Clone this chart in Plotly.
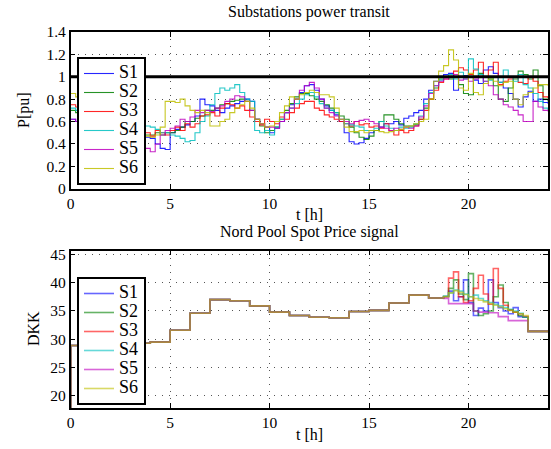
import numpy as np
import plotly.graph_objects as go

# ---------------- data ----------------
names = ["S1", "S2", "S3", "S4", "S5", "S6"]
colors = ["#0000ff", "#008000", "#ff0000", "#00bfbf", "#bf00bf", "#bfbf00"]

# time grid for power transit (hours, 0.25 h)
t_power = np.arange(0, 24.001, 0.25)

p_S1 = [0.62, 0.60, 0.58, 0.57, 0.56, 0.55, 0.54, 0.55, 0.53, 0.52, 0.50, 0.51,
        0.49, 0.48, 0.47, 0.46, 0.45, 0.40, 0.36, 0.35, 0.50, 0.53, 0.55, 0.57,
        0.60, 0.65, 0.80, 0.75, 0.74, 0.70, 0.68, 0.72, 0.74, 0.76, 0.78, 0.80,
        0.78, 0.62, 0.58, 0.55, 0.50, 0.54, 0.60, 0.68, 0.75, 0.80, 0.86, 0.92,
        0.93, 0.88, 0.80, 0.74, 0.70, 0.66, 0.60, 0.50, 0.42, 0.40, 0.41, 0.45,
        0.50, 0.52, 0.55, 0.58, 0.58, 0.60, 0.57, 0.63, 0.65, 0.68, 0.70, 0.80,
        0.88, 0.96, 1.00, 1.02, 1.03, 0.88, 1.00, 1.01, 1.00, 0.97, 0.94, 1.06,
        1.09, 1.03, 0.95, 0.90, 0.85, 0.80, 0.73, 0.82, 0.87, 0.78, 0.80, 0.77,
        0.76]
p_S2 = [0.70, 0.68, 0.66, 0.64, 0.63, 0.62, 0.60, 0.58, 0.57, 0.56, 0.55, 0.53,
        0.52, 0.50, 0.50, 0.48, 0.48, 0.50, 0.48, 0.50, 0.50, 0.52, 0.55, 0.60,
        0.60, 0.63, 0.65, 0.70, 0.70, 0.72, 0.75, 0.76, 0.78, 0.79, 0.80, 0.78,
        0.70, 0.62, 0.56, 0.50, 0.52, 0.55, 0.62, 0.70, 0.76, 0.82, 0.85, 0.85,
        0.83, 0.80, 0.78, 0.75, 0.72, 0.68, 0.65, 0.62, 0.55, 0.50, 0.46, 0.44,
        0.47, 0.52, 0.60, 0.66, 0.66, 0.62, 0.58, 0.56, 0.56, 0.57, 0.62, 0.72,
        0.80, 0.90, 0.98, 1.00, 0.98, 1.00, 0.93, 0.85, 0.84, 1.00, 1.03, 1.00,
        0.98, 0.92, 0.80, 0.78, 0.90, 0.98, 1.05, 1.02, 0.98, 1.06, 0.92, 0.80,
        0.78]
p_S3 = [0.75, 0.73, 0.70, 0.68, 0.66, 0.64, 0.62, 0.60, 0.58, 0.57, 0.56, 0.55,
        0.53, 0.52, 0.50, 0.50, 0.47, 0.52, 0.50, 0.48, 0.52, 0.55, 0.52, 0.58,
        0.55, 0.58, 0.65, 0.66, 0.68, 0.65, 0.72, 0.76, 0.75, 0.72, 0.74, 0.70,
        0.64, 0.60, 0.57, 0.62, 0.60, 0.58, 0.64, 0.62, 0.68, 0.72, 0.76, 0.78,
        0.78, 0.72, 0.70, 0.66, 0.64, 0.62, 0.60, 0.58, 0.56, 0.60, 0.57, 0.58,
        0.55, 0.56, 0.54, 0.58, 0.52, 0.48, 0.52, 0.50, 0.52, 0.56, 0.62, 0.70,
        0.80, 0.88, 0.95, 0.98, 1.00, 1.05, 1.08, 1.06, 1.02, 1.06, 1.13, 1.00,
        1.06, 1.13, 0.93, 0.96, 0.98, 1.00, 0.95, 0.94, 1.00, 0.96, 0.86, 0.82,
        0.81]
p_S4 = [0.72, 0.70, 0.68, 0.66, 0.64, 0.63, 0.62, 0.60, 0.60, 0.58, 0.57, 0.56,
        0.56, 0.55, 0.55, 0.56, 0.55, 0.53, 0.50, 0.50, 0.48, 0.47, 0.45, 0.42,
        0.43, 0.50, 0.60, 0.65, 0.75, 0.85, 0.90, 0.88, 0.90, 0.93, 0.86, 0.80,
        0.78, 0.52, 0.50, 0.52, 0.48, 0.55, 0.62, 0.68, 0.72, 0.76, 0.80, 0.84,
        0.86, 0.82, 0.76, 0.72, 0.70, 0.68, 0.62, 0.58, 0.57, 0.56, 0.55, 0.52,
        0.52, 0.54, 0.60, 0.56, 0.54, 0.52, 0.55, 0.54, 0.55, 0.58, 0.65, 0.76,
        0.86, 0.92, 0.97, 1.00, 1.02, 0.98, 1.04, 0.98, 1.16, 1.07, 1.02, 0.96,
        0.97, 1.00, 0.95, 1.06, 1.00, 0.96, 1.02, 0.93, 0.90, 0.85, 0.78, 0.72,
        0.70]
p_S5 = [0.62, 0.60, 0.58, 0.56, 0.55, 0.53, 0.51, 0.50, 0.48, 0.46, 0.45, 0.43,
        0.42, 0.40, 0.38, 0.36, 0.33, 0.40, 0.48, 0.52, 0.54, 0.56, 0.62, 0.60,
        0.64, 0.70, 0.68, 0.70, 0.69, 0.72, 0.74, 0.78, 0.80, 0.83, 0.82, 0.78,
        0.70, 0.62, 0.58, 0.55, 0.55, 0.54, 0.60, 0.68, 0.72, 0.80, 0.88, 0.92,
        0.95, 0.90, 0.80, 0.72, 0.68, 0.65, 0.62, 0.60, 0.58, 0.60, 0.61, 0.62,
        0.60, 0.58, 0.55, 0.54, 0.52, 0.54, 0.53, 0.55, 0.54, 0.56, 0.64, 0.74,
        0.85, 0.92, 0.96, 0.98, 1.00, 1.02, 0.97, 0.98, 0.96, 0.98, 1.00, 0.96,
        0.92, 0.84, 0.80, 0.75, 0.73, 0.70, 0.66, 0.60, 0.60, 0.78, 0.73, 0.70,
        0.69]
p_S6 = [0.85, 0.82, 0.78, 0.75, 0.72, 0.70, 0.67, 0.64, 0.62, 0.60, 0.57, 0.55,
        0.53, 0.51, 0.49, 0.47, 0.46, 0.48, 0.55, 0.78, 0.78, 0.77, 0.80, 0.74,
        0.70, 0.68, 0.70, 0.68, 0.56, 0.56, 0.60, 0.62, 0.68, 0.72, 0.75, 0.78,
        0.72, 0.62, 0.58, 0.55, 0.56, 0.60, 0.68, 0.74, 0.82, 0.80, 0.84, 0.86,
        0.88, 0.86, 0.84, 0.84, 0.82, 0.72, 0.62, 0.55, 0.51, 0.51, 0.52, 0.50,
        0.52, 0.52, 0.51, 0.50, 0.51, 0.52, 0.53, 0.55, 0.56, 0.58, 0.60, 0.62,
        0.80, 0.96, 1.05, 1.10, 1.24, 1.15, 0.90, 0.88, 1.03, 0.86, 0.84, 0.94,
        0.98, 0.96, 0.92, 0.95, 0.96, 0.80, 0.75, 0.84, 0.86, 0.90, 0.93, 0.93,
        0.92]
power = [p_S1, p_S2, p_S3, p_S4, p_S5, p_S6]

limit_x = [0, 24]
limit_y = [1, 1]

# Nord Pool spot price (DKK)
price_start = 17.9
price_hours = list(range(0, 19))          # hourly steps 0..18
price_hourly = [28.9, 29.0, 29.1, 29.3, 29.5, 31.6, 34.6, 37.0, 36.8, 35.9,
                34.8, 34.2, 33.9, 33.8, 34.9, 35.1, 36.4, 37.8, 37.3]
t_evening = [18.5, 18.75, 19.0, 19.25, 19.5, 19.75, 20.0, 20.25, 20.5, 20.75,
             21.0, 21.25, 21.5, 21.75, 22.0, 22.25, 22.5, 22.75]
e_S1 = [37.3, 37.5, 38.5, 36.8, 37.5, 40.5, 36.5, 34.2, 35.5, 35.0,
        40.5, 36.5, 35.6, 35.0, 34.5, 35.6, 34.0, 33.9]
e_S2 = [37.3, 37.6, 39.0, 40.5, 38.0, 37.0, 41.6, 35.0, 34.2, 34.5,
        35.0, 37.5, 39.6, 36.5, 35.2, 34.8, 34.2, 33.9]
e_S3 = [37.3, 37.5, 40.8, 41.9, 37.5, 36.5, 36.8, 39.0, 41.3, 38.0,
        36.2, 42.5, 39.0, 36.0, 35.2, 34.8, 34.5, 34.0]
e_S4 = [37.3, 37.6, 38.2, 38.7, 38.5, 38.0, 37.5, 37.8, 37.2, 36.8,
        36.5, 36.2, 35.9, 35.6, 35.3, 35.0, 34.6, 33.9]
e_S5 = [37.3, 37.2, 36.3, 36.3, 36.3, 36.3, 36.3, 35.0, 34.8, 34.8,
        34.7, 34.7, 34.0, 34.0, 33.3, 33.3, 33.3, 33.3]
e_S6 = [37.3, 37.5, 38.2, 38.6, 38.3, 37.9, 37.5, 37.2, 36.9, 36.6,
        36.3, 36.0, 35.7, 35.4, 35.1, 34.8, 34.5, 34.2]
evening = [e_S1, e_S2, e_S3, e_S4, e_S5, e_S6]
t_tail = [23, 24]
price_tail = [31.4, 31.4]

# ---------------- figure ----------------
W, H = 551, 449
FONT = "Liberation Serif"
TICK_SIZE = 15.5
LABEL_SIZE = 16

def px_x(p):
    return p / W

def px_y(p):
    return 1 - p / H

def legend_name(n):
    return "<span style='font-size:18px'>" + n + "</span>"

fig = go.Figure()

for n, c, y in zip(names, colors, power):
    fig.add_trace(go.Scatter(x=t_power, y=y, name=legend_name(n), mode="lines",
                             line=dict(color=c, width=1.1, shape="hv"),
                             opacity=0.85, xaxis="x", yaxis="y",
                             legend="legend"))
fig.add_trace(go.Scatter(x=limit_x, y=limit_y, mode="lines",
                         line=dict(color="black", width=3.2),
                         showlegend=False, xaxis="x", yaxis="y",
                         hoverinfo="skip"))

for n, c, e in zip(names, colors, evening):
    xs = [0] + price_hours + t_evening + t_tail
    ys = [price_start] + price_hourly + e + price_tail
    fig.add_trace(go.Scatter(x=xs, y=ys, name=legend_name(n), mode="lines",
                             line=dict(color=c, width=1.6, shape="hv"),
                             opacity=0.6, xaxis="x2", yaxis="y2",
                             legend="legend2"))

axis_common = dict(showline=True, linecolor="black", linewidth=1.5,
                   mirror="ticks", ticks="inside", ticklen=5,
                   tickcolor="black", showgrid=True, gridcolor="#555555",
                   griddash="1px,6px", gridwidth=1, zeroline=False,
                   tickfont=dict(family=FONT, size=TICK_SIZE, color="black"),
                   automargin=False)

xdom = [px_x(70.7), px_x(548)]
legend_common = dict(xanchor="left", yanchor="top", bgcolor="white",
                     bordercolor="black", borderwidth=2,
                     font=dict(family=FONT, size=11, color="black"),
                     tracegroupgap=0, itemwidth=30)
fig.update_layout(
    width=W, height=H,
    margin=dict(l=0, r=0, t=0, b=0),
    paper_bgcolor="white", plot_bgcolor="white",
    font=dict(family=FONT, size=14, color="black"),
    xaxis=dict(axis_common, domain=xdom, range=[0, 24],
               tickvals=[0, 5, 10, 15, 20], anchor="y"),
    yaxis=dict(axis_common, domain=[px_y(188.7), px_y(32)], range=[0, 1.4],
               tickvals=[0, 0.2, 0.4, 0.6, 0.8, 1, 1.2, 1.4],
               ticktext=["0", "0.2", "0.4", "0.6", "0.8", "1", "1.2", "1.4"],
               anchor="x"),
    xaxis2=dict(axis_common, domain=xdom, range=[0, 24],
                tickvals=[0, 5, 10, 15, 20], anchor="y2"),
    yaxis2=dict(axis_common, domain=[px_y(408), px_y(250.7)],
                range=[17.88, 45.64], tickvals=[20, 25, 30, 35, 40, 45],
                anchor="x2"),
    legend=dict(legend_common, x=px_x(77), y=px_y(57)),
    legend2=dict(legend_common, x=px_x(77), y=px_y(277)),
    showlegend=True,
)

ann = [
    dict(text="Substations power transit", x=px_x(309), y=px_y(12.5)),
    dict(text="t [h]", x=px_x(309), y=px_y(215)),
    dict(text="Nord Pool Spot Price signal", x=px_x(309), y=px_y(232)),
    dict(text="t [h]", x=px_x(309), y=px_y(434)),
    dict(text="P[pu]", x=px_x(24), y=px_y(110), textangle=-90),
    dict(text="DKK", x=px_x(33), y=px_y(329), textangle=-90),
]
for a in ann:
    fig.add_annotation(xref="paper", yref="paper", showarrow=False,
                       xanchor="center", yanchor="middle",
                       font=dict(family=FONT, size=LABEL_SIZE, color="black"),
                       **a)

fig.write_html("out.html", config={"displayModeBar": False},
               post_script="document.body.style.margin='0px';")
